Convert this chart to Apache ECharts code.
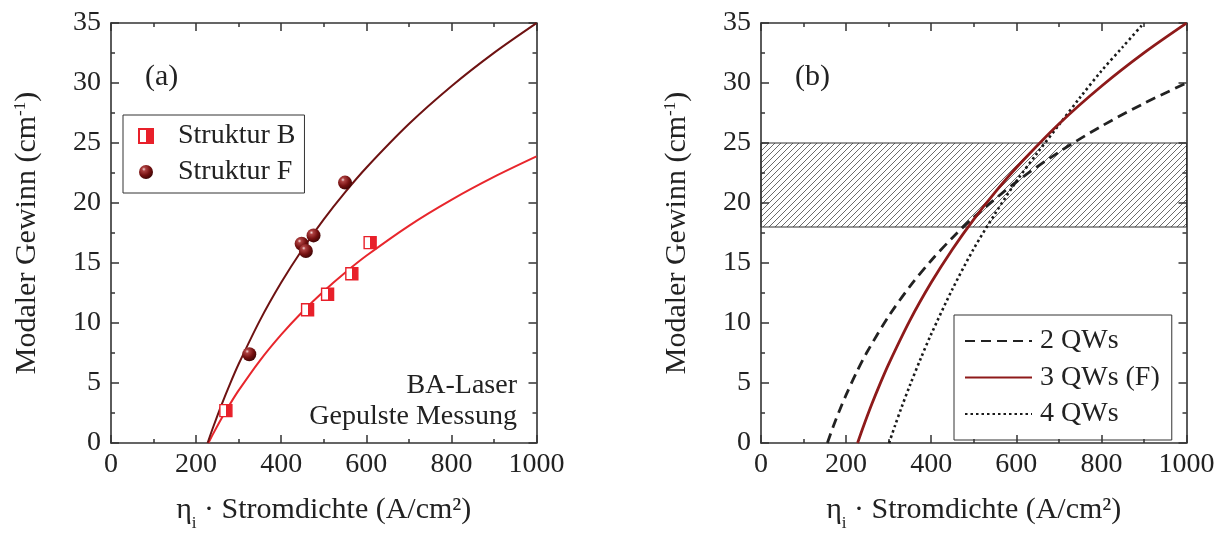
<!DOCTYPE html>
<html>
<head>
<meta charset="utf-8">
<script src="https://cdn.jsdelivr.net/npm/echarts@6/dist/echarts.min.js"></script>
<style>
  html, body { margin: 0; padding: 0; background: #fff; }
  #chart { width: 1225px; height: 537px; }
</style>
</head>
<body>
<div id="chart"></div>
<script>
// ---- Daten ----
var strukturB_x = [270, 462, 509, 566, 609];
var strukturB_y = [2.7, 11.1, 12.4, 14.1, 16.7];
var strukturF_x = [325, 448, 458, 476, 550];
var strukturF_y = [7.4, 16.6, 16.0, 17.3, 21.7];

var fitB_x = [229, 240, 260, 280, 300, 350, 400, 450, 500, 550, 600, 700, 800, 900, 1000];
var fitB_y = [0, 0.76, 2.06, 3.26, 4.38, 6.87, 9.03, 10.94, 12.65, 14.19, 15.6, 18.1, 20.26, 22.17, 23.88];

var fitF_x = [227, 240, 260, 280, 300, 350, 400, 450, 500, 550, 600, 700, 800, 900, 1000];
var fitF_y = [0, 1.31, 3.2, 4.95, 6.58, 10.22, 13.37, 16.15, 18.64, 20.89, 22.94, 26.58, 29.73, 32.51, 34.99];

var qw2_x = [156, 170, 185, 200, 225, 250, 300, 350, 400, 450, 500, 600, 700, 800, 900, 1000];
var qw2_y = [0, 1.39, 2.75, 4.01, 5.92, 7.62, 10.56, 13.05, 15.21, 17.11, 18.81, 21.76, 24.24, 26.4, 28.3, 30.0];

var qw3_x = fitF_x;
var qw3_y = fitF_y;

var qw4_x = [301, 315, 330, 350, 375, 400, 450, 500, 550, 600, 650, 700, 750, 800, 850, 900];
var qw4_y = [0, 1.45, 2.94, 4.81, 7.01, 9.07, 12.83, 16.19, 19.1, 21.8, 24.2, 26.5, 28.8, 31.0, 33.0, 35.0];

var bandLow = 18;
var bandHigh = 25;

var xMin = 0, xMax = 1000, xStep = 200;
var yMin = 0, yMax = 35, yStep = 5;

function pairs(xs, ys) {
    return xs.map(function (x, i) { return [x, ys[i]]; });
}

var FONT = '"Liberation Serif", "DejaVu Serif", serif';
var INK = '#222';
var AXIS = '#333';

// Schraffur fuer den Bereich 18..25
function makeHatch() {
    var c = document.createElement('canvas');
    c.width = 6; c.height = 6;
    var ctx = c.getContext('2d');
    ctx.strokeStyle = '#3a3a3a';
    ctx.lineWidth = 0.75;
    ctx.beginPath();
    ctx.moveTo(0, 6); ctx.lineTo(6, 0);
    ctx.moveTo(-1, 1); ctx.lineTo(1, -1);
    ctx.moveTo(5, 7); ctx.lineTo(7, 5);
    ctx.stroke();
    return c;
}

function xAx(gridIndex, pos) {
    var main = pos === 'bottom';
    return {
        type: 'value', gridIndex: gridIndex, position: pos,
        min: xMin, max: xMax, interval: xStep,
        axisLine: { show: true, onZero: false, lineStyle: { color: AXIS, width: 1.6 } },
        axisTick: { show: true, inside: true, length: 8, lineStyle: { color: AXIS, width: 1.5 } },
        minorTick: { show: true, splitNumber: 2, length: 4, lineStyle: { color: AXIS, width: 1.5 } },
        splitLine: { show: false },
        axisLabel: {
            show: main, fontFamily: FONT, fontSize: 28, color: INK, margin: 8,
            formatter: function (v) { return String(v); }
        },
        name: main ? '\u03b7{sub|i} \u00b7 Stromdichte (A/cm\u00b2)' : '',
        nameLocation: 'middle', nameGap: 46,
        nameTextStyle: {
            fontFamily: FONT, fontSize: 30, color: INK,
            rich: { sub: { fontFamily: FONT, fontSize: 17, color: INK, verticalAlign: 'bottom', padding: [26, 0, 0, 0] } }
        }
    };
}

function yAx(gridIndex, pos) {
    var main = pos === 'left';
    return {
        type: 'value', gridIndex: gridIndex, position: pos,
        min: yMin, max: yMax, interval: yStep,
        axisLine: { show: true, onZero: false, lineStyle: { color: AXIS, width: 1.6 } },
        axisTick: { show: true, inside: true, length: 8, lineStyle: { color: AXIS, width: 1.5 } },
        minorTick: { show: true, splitNumber: 2, length: 4, lineStyle: { color: AXIS, width: 1.5 } },
        splitLine: { show: false },
        axisLabel: { show: main, fontFamily: FONT, fontSize: 28, color: INK, margin: 10 },
        name: main ? 'Modaler Gewinn (cm{sup|-1})' : '',
        nameLocation: 'middle', nameGap: 68, nameRotate: 90,
        nameTextStyle: {
            fontFamily: FONT, fontSize: 30, color: INK,
            rich: { sup: { fontFamily: FONT, fontSize: 17, color: INK, verticalAlign: 'top', padding: [0, 0, 14, 0] } }
        }
    };
}

var sphere = {
    type: 'radial', x: 0.35, y: 0.3, r: 0.75,
    colorStops: [
        { offset: 0, color: '#f4dada' },
        { offset: 0.18, color: '#ad4040' },
        { offset: 0.6, color: '#741010' },
        { offset: 1, color: '#3a0505' }
    ]
};
var halfSquare = {
    type: 'linear', x: 0, y: 0, x2: 1, y2: 0,
    colorStops: [
        { offset: 0, color: '#ffffff' },
        { offset: 0.5, color: '#ffffff' },
        { offset: 0.5, color: '#e8202a' },
        { offset: 1, color: '#e8202a' }
    ]
};

var chart = echarts.init(document.getElementById('chart'), null, { renderer: 'canvas' });

var option = {
    animation: false,
    backgroundColor: '#fff',
    grid: [
        { left: 111, top: 23, width: 425.5, height: 425.5, containLabel: false },
        { left: 761, top: 23, width: 425.5, height: 425.5, containLabel: false }
    ],
    xAxis: [xAx(0, 'bottom'), xAx(0, 'top'), xAx(1, 'bottom'), xAx(1, 'top')],
    yAxis: [yAx(0, 'left'), yAx(0, 'right'), yAx(1, 'left'), yAx(1, 'right')],
    legend: [
        {
            data: ['Struktur B', 'Struktur F'],
            orient: 'vertical', left: 123, top: 115,
            padding: [7, 9, 7, 15], itemGap: 8, itemWidth: 14, itemHeight: 14,
            borderColor: AXIS, borderWidth: 1, selectedMode: false,
            textStyle: { fontFamily: FONT, fontSize: 28, color: INK, lineHeight: 28, padding: [0, 0, 0, 20] }
        },
        {
            data: ['2 QWs', '3 QWs (F)', '4 QWs'],
            orient: 'vertical', left: 954, top: 315,
            padding: [12, 12, 12, 10], itemGap: 8.5, itemWidth: 67, itemHeight: 14,
            borderColor: AXIS, borderWidth: 1, selectedMode: false,
            itemStyle: { opacity: 0 },
            textStyle: { fontFamily: FONT, fontSize: 28, color: INK, lineHeight: 28, padding: [0, 0, 0, 3] }
        }
    ],
    graphic: [
        { type: 'text', left: 145, top: 62, style: { text: '(a)', font: '30px ' + FONT, fill: INK } },
        { type: 'text', left: 795, top: 62, style: { text: '(b)', font: '30px ' + FONT, fill: INK } },
        { type: 'text', right: 1225 - 517, top: 372, style: { text: 'BA-Laser', font: '28px ' + FONT, fill: INK } },
        { type: 'text', right: 1225 - 517, top: 403, style: { text: 'Gepulste Messung', font: '28px ' + FONT, fill: INK } }
    ],
    series: [
        // Panel (a)
        {
            name: 'FitB', type: 'line', xAxisIndex: 0, yAxisIndex: 0,
            data: pairs(fitB_x, fitB_y), smooth: 0.3,
            symbol: 'none', lineStyle: { color: '#e8262c', width: 2 }, z: 2
        },
        {
            name: 'FitF', type: 'line', xAxisIndex: 0, yAxisIndex: 0,
            data: pairs(fitF_x, fitF_y), smooth: 0.3,
            symbol: 'none', lineStyle: { color: '#6e1212', width: 2 }, z: 2
        },
        {
            name: 'Struktur B', type: 'scatter', xAxisIndex: 0, yAxisIndex: 0,
            data: pairs(strukturB_x, strukturB_y), symbol: 'rect', symbolSize: 12,
            itemStyle: { color: halfSquare, borderColor: '#e8202a', borderWidth: 1.4, opacity: 1 }, z: 3
        },
        {
            name: 'Struktur F', type: 'scatter', xAxisIndex: 0, yAxisIndex: 0,
            data: pairs(strukturF_x, strukturF_y), symbol: 'circle', symbolSize: 14,
            itemStyle: { color: sphere, opacity: 1 }, z: 3
        },
        // Panel (b)
        {
            name: 'Band', type: 'line', xAxisIndex: 2, yAxisIndex: 2, data: [],
            markArea: {
                silent: true,
                itemStyle: { color: { image: makeHatch(), repeat: 'repeat' }, borderColor: '#333', borderWidth: 1 },
                data: [[{ xAxis: xMin, yAxis: bandLow }, { xAxis: xMax, yAxis: bandHigh }]]
            }
        },
        {
            name: '2 QWs', type: 'line', xAxisIndex: 2, yAxisIndex: 2,
            data: pairs(qw2_x, qw2_y), smooth: 0.3, symbol: 'none',
            itemStyle: { color: '#222' },
            lineStyle: { color: '#222', width: 2.8, type: [10, 6] }, z: 3
        },
        {
            name: '3 QWs (F)', type: 'line', xAxisIndex: 2, yAxisIndex: 2,
            data: pairs(qw3_x, qw3_y), smooth: 0.3, symbol: 'none',
            itemStyle: { color: '#8e1a1a' },
            lineStyle: { color: '#8e1a1a', width: 2.8 }, z: 4
        },
        {
            name: '4 QWs', type: 'line', xAxisIndex: 2, yAxisIndex: 2,
            data: pairs(qw4_x, qw4_y), smooth: 0.3, symbol: 'none',
            itemStyle: { color: '#222' },
            lineStyle: { color: '#1a1a1a', width: 2.6, type: [2.5, 3] }, z: 3
        }
    ]
};

chart.setOption(option);
</script>
</body>
</html>
